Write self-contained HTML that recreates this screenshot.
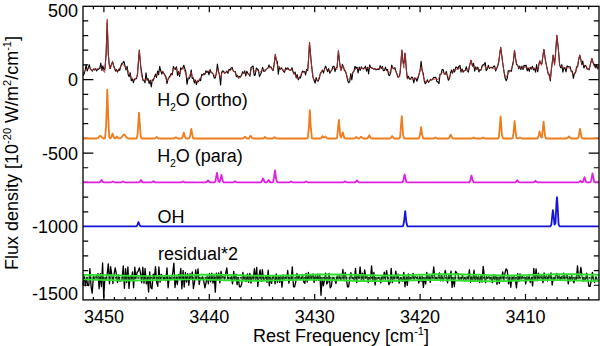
<!DOCTYPE html>
<html><head><meta charset="utf-8"><style>
html,body{margin:0;padding:0;background:#fff;}
svg{display:block;}
text{font-family:"Liberation Sans",sans-serif;fill:#000;}
</style></head><body>
<svg width="600" height="346" viewBox="0 0 600 346">
<rect width="600" height="346" fill="#fff"/>
<path d="M588.74 299.9V297.00M588.74 6.3V9.20M578.20 299.9V297.00M578.20 6.3V9.20M567.66 299.9V297.00M567.66 6.3V9.20M557.12 299.9V297.00M557.12 6.3V9.20M546.58 299.9V297.00M546.58 6.3V9.20M536.04 299.9V297.00M536.04 6.3V9.20M525.50 299.9V294.00M525.50 6.3V12.20M514.96 299.9V297.00M514.96 6.3V9.20M504.42 299.9V297.00M504.42 6.3V9.20M493.88 299.9V297.00M493.88 6.3V9.20M483.34 299.9V297.00M483.34 6.3V9.20M472.80 299.9V297.00M472.80 6.3V9.20M462.26 299.9V297.00M462.26 6.3V9.20M451.72 299.9V297.00M451.72 6.3V9.20M441.18 299.9V297.00M441.18 6.3V9.20M430.64 299.9V297.00M430.64 6.3V9.20M420.10 299.9V294.00M420.10 6.3V12.20M409.56 299.9V297.00M409.56 6.3V9.20M399.02 299.9V297.00M399.02 6.3V9.20M388.48 299.9V297.00M388.48 6.3V9.20M377.94 299.9V297.00M377.94 6.3V9.20M367.40 299.9V297.00M367.40 6.3V9.20M356.86 299.9V297.00M356.86 6.3V9.20M346.32 299.9V297.00M346.32 6.3V9.20M335.78 299.9V297.00M335.78 6.3V9.20M325.24 299.9V297.00M325.24 6.3V9.20M314.70 299.9V294.00M314.70 6.3V12.20M304.16 299.9V297.00M304.16 6.3V9.20M293.62 299.9V297.00M293.62 6.3V9.20M283.08 299.9V297.00M283.08 6.3V9.20M272.54 299.9V297.00M272.54 6.3V9.20M262.00 299.9V297.00M262.00 6.3V9.20M251.46 299.9V297.00M251.46 6.3V9.20M240.92 299.9V297.00M240.92 6.3V9.20M230.38 299.9V297.00M230.38 6.3V9.20M219.84 299.9V297.00M219.84 6.3V9.20M209.30 299.9V294.00M209.30 6.3V12.20M198.76 299.9V297.00M198.76 6.3V9.20M188.22 299.9V297.00M188.22 6.3V9.20M177.68 299.9V297.00M177.68 6.3V9.20M167.14 299.9V297.00M167.14 6.3V9.20M156.60 299.9V297.00M156.60 6.3V9.20M146.06 299.9V297.00M146.06 6.3V9.20M135.52 299.9V297.00M135.52 6.3V9.20M124.98 299.9V297.00M124.98 6.3V9.20M114.44 299.9V297.00M114.44 6.3V9.20M103.90 299.9V294.00M103.90 6.3V12.20M93.36 299.9V297.00M93.36 6.3V9.20M83.0 285.26H88.20M599.0 285.26H593.80M83.0 270.57H88.20M599.0 270.57H593.80M83.0 255.88H88.20M599.0 255.88H593.80M83.0 241.19H88.20M599.0 241.19H593.80M83.0 226.50H93.30M599.0 226.50H588.70M83.0 211.81H88.20M599.0 211.81H593.80M83.0 197.12H88.20M599.0 197.12H593.80M83.0 182.43H88.20M599.0 182.43H593.80M83.0 167.74H88.20M599.0 167.74H593.80M83.0 153.05H93.30M599.0 153.05H588.70M83.0 138.36H88.20M599.0 138.36H593.80M83.0 123.67H88.20M599.0 123.67H593.80M83.0 108.98H88.20M599.0 108.98H593.80M83.0 94.29H88.20M599.0 94.29H593.80M83.0 79.60H93.30M599.0 79.60H588.70M83.0 64.91H88.20M599.0 64.91H593.80M83.0 50.22H88.20M599.0 50.22H593.80M83.0 35.53H88.20M599.0 35.53H593.80M83.0 20.84H88.20M599.0 20.84H593.80" stroke="#000" stroke-width="1.2" fill="none"/>
<g fill="none" stroke-linejoin="round">
<polyline points="83.0,75.6 84.0,74.1 85.1,70.7 86.1,64.8 87.2,71.0 88.2,68.3 89.3,64.7 90.3,68.8 91.4,70.2 92.4,71.1 93.5,68.9 94.5,69.9 95.6,68.7 96.6,71.0 97.7,69.4 98.7,69.1 99.8,68.1 100.8,63.0 101.9,70.4 102.9,65.8 104.0,70.3 105.0,68.0 106.1,54.4 106.1,54.4 107.1,23.5 107.2,22.0 108.2,51.5 108.3,54.4 109.2,64.2 110.3,68.5 111.3,64.8 112.4,62.2 112.6,61.7 113.4,65.2 114.5,68.0 115.5,71.1 116.6,69.6 117.6,72.0 118.7,69.1 119.7,70.4 120.8,66.0 121.8,63.4 122.9,62.9 123.9,61.4 125.0,65.7 126.0,70.0 127.1,66.4 128.1,74.3 129.2,76.7 130.2,72.9 131.3,80.7 132.3,78.9 133.4,82.7 134.4,79.1 135.5,78.8 136.5,78.7 137.6,73.6 138.7,58.1 139.3,50.1 139.7,54.8 140.8,67.2 141.8,73.1 142.9,80.3 143.9,80.4 145.0,82.8 146.0,72.8 147.1,80.3 148.1,78.6 149.2,83.6 150.2,80.1 151.3,87.0 152.3,79.7 153.4,80.2 154.4,77.2 155.5,74.1 156.5,77.5 157.6,71.0 158.6,74.8 159.7,66.4 160.7,70.6 161.8,74.1 162.8,71.4 163.9,73.7 164.9,74.9 166.0,76.9 167.0,83.7 168.1,78.8 169.1,77.3 170.2,75.5 171.2,73.5 172.3,74.6 173.3,66.6 174.4,68.2 175.4,69.3 176.5,66.8 177.5,75.5 178.6,71.5 179.6,76.5 180.7,67.9 181.7,69.3 182.8,67.8 183.8,65.2 184.9,68.8 185.9,71.9 187.0,84.3 188.0,78.9 189.1,78.8 190.1,76.9 191.2,69.8 192.2,78.5 193.3,77.8 194.3,83.0 195.4,80.0 196.4,84.8 197.5,80.9 198.5,81.7 199.6,79.1 200.6,80.7 201.7,74.4 202.7,75.1 203.8,73.6 204.8,74.6 205.9,70.8 206.9,72.5 208.0,71.0 209.0,74.9 210.1,69.5 211.1,72.7 212.2,72.9 213.2,74.0 214.3,78.1 215.3,77.9 216.4,72.7 217.4,64.1 218.5,71.3 219.5,75.1 220.6,85.3 221.6,72.3 222.7,70.8 223.7,71.5 224.8,73.3 225.8,72.4 226.9,71.0 227.9,73.4 229.0,69.3 230.0,70.0 231.1,68.0 232.1,67.4 233.2,70.9 234.2,71.6 235.3,71.6 236.3,76.7 237.4,75.3 238.4,77.9 239.5,76.4 240.5,77.1 241.6,75.1 242.6,71.7 243.7,73.3 244.7,70.8 245.8,75.9 246.8,71.2 247.9,73.6 248.9,74.2 250.0,76.3 251.0,67.5 252.1,66.8 253.1,66.0 254.2,75.4 255.2,74.9 256.3,68.0 257.3,69.0 258.4,70.0 259.4,76.5 260.5,74.5 261.5,72.0 262.6,67.3 263.6,71.1 264.7,71.2 265.7,69.9 266.8,68.9 267.8,68.3 268.9,65.0 269.9,67.1 271.0,67.1 272.0,69.2 273.1,70.6 274.1,64.4 275.2,55.7 275.3,54.4 276.2,60.0 277.3,61.6 278.3,74.2 279.4,66.9 280.4,69.2 281.5,67.8 282.5,69.5 283.6,71.6 284.6,72.3 285.7,67.7 286.7,69.5 287.8,67.8 288.8,69.8 289.9,69.9 290.9,70.2 292.0,67.7 293.0,71.9 294.1,73.9 295.1,72.0 296.2,78.0 297.2,74.6 298.3,79.9 299.3,77.5 300.4,78.0 301.4,74.2 302.5,71.0 303.5,72.0 304.6,71.5 305.6,75.0 306.7,69.4 307.7,70.6 308.8,55.7 309.5,42.5 309.8,46.0 310.9,58.2 310.9,58.8 311.9,68.4 313.0,77.4 314.0,80.0 315.1,83.1 316.1,77.5 317.2,80.8 318.2,81.1 319.3,78.3 320.3,73.6 321.4,71.9 322.4,70.1 323.5,73.1 324.5,68.9 325.6,66.2 326.6,69.0 327.7,71.7 328.7,68.6 329.8,73.3 330.8,71.3 331.9,70.0 332.9,66.3 334.0,66.2 335.0,71.7 336.1,67.9 337.1,67.1 338.2,53.9 338.4,50.8 339.2,58.7 339.5,61.7 340.3,67.1 341.3,69.8 342.4,64.4 343.4,67.0 344.5,70.8 345.5,71.3 346.6,75.1 347.6,80.3 348.7,82.7 349.7,81.8 350.8,73.5 351.8,79.9 352.9,72.1 353.9,71.3 355.0,66.2 356.0,68.4 357.1,67.1 358.1,73.0 359.2,67.0 360.2,70.4 361.3,66.8 362.3,68.8 363.4,68.5 364.4,68.0 365.5,66.2 366.5,71.1 367.6,67.3 368.6,73.9 369.7,64.9 370.7,67.2 371.8,68.0 372.8,68.1 373.9,69.3 374.9,68.7 376.0,69.9 377.0,69.2 378.1,69.5 379.1,69.4 380.2,65.6 381.2,68.5 382.3,66.4 383.3,70.7 384.4,70.4 385.4,67.1 386.5,70.4 387.5,69.4 388.6,75.0 389.6,75.5 390.7,72.6 391.7,65.1 392.8,68.1 393.8,68.7 394.9,67.7 395.9,71.1 397.0,74.2 398.0,77.4 399.1,76.3 400.1,72.9 401.2,59.4 401.2,58.8 401.9,50.1 402.2,53.3 403.0,61.7 403.3,63.7 404.3,61.9 405.0,53.0 405.4,56.8 405.8,61.7 406.4,70.0 407.5,78.7 408.5,76.3 409.6,79.1 410.6,79.1 411.7,77.0 412.7,77.8 413.8,82.8 414.8,77.9 415.9,78.5 416.9,81.2 418.0,78.0 419.0,74.5 420.1,70.1 421.1,61.4 422.2,70.6 423.2,73.1 424.3,81.2 425.3,83.7 426.4,82.4 427.4,79.8 428.5,82.4 429.5,81.0 430.6,79.3 431.6,80.1 432.7,79.0 433.7,77.3 434.8,77.6 435.8,77.2 436.9,81.6 437.9,81.9 439.0,83.6 440.0,74.2 441.1,74.1 442.1,69.6 443.2,69.5 444.2,74.0 445.3,74.3 446.3,71.3 447.4,76.5 448.4,80.3 449.5,78.4 450.5,73.0 451.6,69.9 452.6,73.2 453.7,69.3 454.7,72.0 455.8,67.0 456.8,67.3 457.9,69.2 458.9,66.3 460.0,65.3 461.0,72.2 462.1,68.9 463.1,72.2 464.2,70.8 465.2,70.3 466.3,66.7 467.3,70.5 468.4,72.1 469.4,66.4 470.5,62.3 471.0,60.2 471.5,62.1 472.6,66.1 473.6,63.4 474.7,71.1 475.7,66.8 476.8,69.4 477.8,67.1 478.9,72.0 479.9,69.6 481.0,70.2 482.0,66.1 483.1,64.7 484.1,64.4 485.2,62.5 486.2,70.7 487.3,69.0 488.3,65.3 489.4,68.4 490.4,67.6 491.5,67.3 492.5,68.2 493.6,66.3 494.6,65.9 495.7,70.9 496.7,68.6 497.8,65.9 498.8,62.0 499.9,53.0 500.7,47.3 500.9,48.9 502.0,57.0 502.4,60.5 503.0,65.0 504.1,72.2 505.1,78.0 506.2,80.7 507.2,78.6 508.3,70.7 509.3,70.9 510.4,70.8 511.4,71.3 512.5,64.9 513.5,60.5 514.5,50.4 514.6,50.8 515.6,58.7 516.7,64.8 517.7,65.1 518.8,68.9 519.8,66.1 520.9,69.6 521.9,66.1 523.0,69.5 524.0,65.3 525.1,66.0 526.1,65.2 527.2,70.9 528.2,68.3 529.3,71.4 530.3,67.4 531.4,69.0 532.4,66.3 533.5,69.9 534.5,68.3 535.6,72.2 536.6,64.6 537.7,71.8 538.7,65.4 539.7,60.8 539.8,60.9 540.8,63.6 541.9,63.8 542.9,56.0 543.9,49.3 544.0,49.7 545.0,57.2 545.5,60.8 546.1,63.6 547.1,68.4 548.2,74.2 549.2,74.3 550.3,80.9 551.3,69.6 552.4,61.5 553.1,55.0 553.4,57.0 554.5,63.8 555.5,54.0 556.6,39.0 556.8,35.4 557.6,42.0 558.2,47.0 558.7,52.9 559.7,65.4 560.8,67.9 561.8,64.6 562.9,72.1 563.9,67.8 565.0,68.1 566.0,71.9 567.1,65.8 568.1,66.8 569.2,66.8 570.2,66.8 571.3,71.6 572.3,71.3 573.4,78.3 574.4,73.0 575.5,73.0 576.5,66.9 577.6,66.8 578.6,60.1 579.7,55.2 579.7,55.0 580.7,59.0 581.8,64.6 582.8,61.0 583.9,68.0 584.9,65.2 586.0,65.9 587.0,69.0 588.1,68.7 589.1,69.9 590.2,65.1 591.2,61.2 591.9,58.5 592.3,59.7 593.3,63.4 594.4,64.5 595.4,67.9 596.5,64.6 597.5,68.9 598.6,65.9" stroke="#000" stroke-width="1.1"/>
<polyline points="83.0,73.2 85.2,70.1 89.5,67.6 91.7,70.9 93.8,69.2 96.7,69.4 99.6,67.6 101.8,69.1 104.7,72.5 106.1,54.4 107.2,19.0 108.3,54.4 109.7,68.9 112.6,61.7 114.0,67.4 116.9,71.6 119.8,68.1 122.7,64.0 124.9,66.9 127.8,69.8 130.7,76.1 134.3,81.1 137.2,76.1 139.3,50.1 141.5,76.1 143.6,80.4 147.3,79.0 150.9,81.8 153.8,78.3 159.5,71.7 162.2,71.2 164.3,74.4 166.9,81.0 168.7,78.9 170.8,76.2 173.7,69.4 175.9,67.5 177.3,70.7 179.5,74.8 180.9,70.5 183.1,67.1 185.3,72.7 187.4,79.0 189.6,75.5 191.0,72.0 192.5,76.7 195.4,81.6 198.3,81.0 201.9,75.9 206.2,72.5 210.5,70.8 213.4,74.6 215.6,76.3 217.5,68.8 219.2,74.1 220.6,78.0 222.1,72.2 225.7,72.4 229.3,70.9 232.2,69.2 235.1,72.2 238.0,77.4 239.4,78.2 241.6,74.7 244.5,71.6 245.9,73.7 247.4,73.6 249.6,75.0 251.7,68.2 253.2,69.2 255.3,72.3 257.5,70.0 259.7,72.5 263.3,68.8 265.4,70.8 268.3,67.7 271.2,67.7 273.4,70.3 275.3,54.4 276.7,63.1 278.4,67.0 281.3,69.0 284.2,70.3 287.8,68.9 290.0,69.7 292.2,69.5 295.0,74.6 297.9,78.9 300.1,76.0 302.3,72.1 305.1,72.2 308.0,68.9 309.5,42.5 310.9,58.8 312.4,73.2 313.8,80.1 316.0,79.5 317.7,81.0 319.6,76.1 321.8,70.9 323.9,70.7 325.4,67.9 327.6,69.6 330.4,71.4 332.6,68.7 334.8,67.8 336.9,69.6 338.4,50.8 339.5,61.7 340.8,71.0 342.7,65.5 344.9,69.9 346.3,73.2 347.8,79.8 349.9,78.3 352.1,74.5 354.3,70.0 357.2,68.2 359.3,69.3 361.5,67.8 363.7,69.3 365.8,68.1 368.0,68.2 370.2,66.9 373.0,68.6 376.6,69.3 379.5,68.2 381.7,67.3 383.9,68.8 386.8,70.8 389.6,72.7 391.8,67.6 394.0,68.2 395.7,71.1 397.6,76.3 399.8,76.8 401.2,58.8 401.9,50.1 403.0,61.7 403.8,68.2 405.0,53.0 405.8,61.7 407.0,78.3 409.9,78.0 412.0,79.3 415.7,78.9 417.8,77.3 419.3,73.5 421.0,66.6 422.4,71.5 423.6,77.4 425.0,81.5 427.2,81.1 428.7,81.7 430.8,79.6 433.0,79.4 435.9,78.9 438.0,79.8 440.2,75.1 442.4,72.0 444.5,73.2 446.7,73.6 448.9,78.9 451.0,73.1 453.9,70.3 457.5,68.9 459.7,68.4 462.6,71.3 465.5,70.1 468.4,70.3 471.0,60.2 472.7,66.7 473.6,67.5 476.0,68.0 479.1,70.1 481.1,69.4 483.7,64.8 486.2,68.1 490.2,67.3 493.3,68.6 496.3,69.2 498.3,63.5 500.7,47.3 502.4,60.5 504.0,72.6 506.0,77.6 508.4,73.4 510.9,70.0 513.1,64.5 514.5,50.4 516.1,62.5 518.6,67.7 521.6,68.3 525.6,67.2 529.7,68.1 533.7,68.0 537.8,69.6 539.7,60.8 541.5,65.4 543.9,49.3 545.5,60.8 547.3,70.0 550.3,79.3 553.1,55.0 554.7,65.4 556.8,35.4 558.2,47.0 559.6,65.4 562.3,66.8 565.8,68.0 569.3,67.7 573.4,74.4 576.2,71.2 579.7,55.0 582.0,64.3 585.4,65.9 588.9,70.0 591.9,58.5 594.2,66.6 597.0,67.7 599.0,68.9" stroke="#b83030" stroke-width="1.0" stroke-opacity="0.85"/>
<polyline points="83.0,138.5 84.0,138.5 85.1,138.5 86.2,138.5 87.2,138.5 88.2,138.5 89.3,138.5 90.3,138.5 91.4,138.5 92.5,138.5 93.5,138.5 94.5,138.5 95.6,138.5 96.7,138.5 97.7,138.2 98.8,137.3 99.8,136.0 100.3,135.8 100.8,136.1 101.9,137.4 103.0,138.3 104.0,138.5 105.0,138.1 106.1,126.3 107.3,89.6 108.2,116.1 109.2,137.3 110.3,138.4 111.3,137.1 112.5,133.5 113.5,136.4 114.5,138.4 115.5,138.1 116.8,136.5 117.7,137.5 118.7,138.4 119.8,138.4 120.8,138.1 121.8,137.2 122.9,135.5 124.1,134.4 125.0,135.1 126.0,136.7 127.1,137.9 128.2,138.4 129.2,138.5 130.2,138.5 131.3,138.5 132.3,138.5 133.4,138.5 134.4,138.5 135.5,138.5 136.6,138.4 137.6,134.6 139.0,112.7 139.7,122.4 140.8,137.2 141.8,138.5 142.8,138.5 143.9,138.5 144.9,138.5 146.0,138.5 147.1,138.5 148.1,138.5 149.2,138.5 150.2,138.5 151.2,138.5 152.3,138.5 153.3,138.5 154.4,138.5 155.4,138.2 156.7,137.0 157.6,137.8 158.6,138.5 159.7,138.5 160.7,138.5 161.8,138.5 162.8,138.5 163.8,138.5 164.9,138.5 165.9,138.5 167.0,138.5 168.1,138.5 169.1,138.5 170.2,138.5 171.2,138.5 172.2,138.5 173.3,138.5 174.3,138.3 175.7,137.3 176.4,137.8 177.5,138.4 178.6,138.5 179.6,138.5 180.7,138.5 181.7,138.4 182.8,136.5 183.8,132.7 184.8,136.5 185.9,138.4 186.9,138.5 188.0,138.5 189.1,138.4 190.1,136.1 191.3,128.8 192.2,134.1 193.2,138.3 194.3,138.5 195.3,138.5 196.4,138.5 197.4,138.5 198.5,138.5 199.6,138.5 200.6,138.5 201.7,138.5 202.7,138.5 203.8,138.5 204.8,138.5 205.8,138.5 206.9,138.5 207.9,138.5 209.0,138.5 210.1,138.5 211.1,138.5 212.2,138.5 213.2,138.5 214.2,138.5 215.3,138.5 216.3,138.5 217.4,138.5 218.4,138.5 219.5,138.5 220.6,138.5 221.6,138.5 222.7,138.5 223.7,138.5 224.8,138.5 225.8,138.5 226.8,138.5 227.9,138.5 228.9,138.5 230.0,138.5 231.1,138.5 232.1,138.5 233.2,138.5 234.2,138.5 235.2,138.5 236.3,138.5 237.3,138.5 238.4,138.5 239.4,138.5 240.5,138.5 241.6,138.5 242.6,138.5 243.7,138.2 245.0,136.6 245.8,137.4 246.8,138.4 247.8,138.5 248.9,138.4 249.9,136.9 250.7,135.8 252.1,138.0 253.1,138.5 254.2,138.5 255.2,138.5 256.2,138.5 257.3,138.5 258.4,138.5 259.4,138.5 260.4,138.5 261.5,138.5 262.6,138.5 263.6,138.3 265.0,137.0 265.7,137.6 266.8,138.4 267.8,138.5 268.9,138.5 269.9,138.5 270.9,138.5 272.0,138.5 273.1,138.3 274.5,137.2 275.1,137.6 276.2,138.4 277.2,138.5 278.3,138.5 279.4,138.5 280.4,138.5 281.4,138.5 282.5,138.5 283.6,138.5 284.6,138.5 285.6,138.5 286.7,138.5 287.8,138.5 288.8,138.5 289.9,138.5 290.9,138.5 291.9,138.5 293.0,138.5 294.1,138.5 295.1,138.5 296.1,138.5 297.2,138.5 298.2,138.5 299.3,138.5 300.4,138.5 301.4,138.5 302.4,138.5 303.5,138.5 304.6,138.5 305.6,138.5 306.6,138.5 307.7,138.1 308.8,128.7 309.8,110.1 310.9,128.7 311.9,138.1 312.9,138.5 314.0,138.5 315.1,138.5 316.1,138.5 317.1,138.5 318.2,138.5 319.2,138.5 320.3,138.5 321.4,137.8 322.5,136.1 323.4,137.4 324.5,137.5 325.4,136.5 326.6,138.0 327.6,138.5 328.7,138.5 329.8,138.5 330.8,138.5 331.9,138.5 332.9,138.5 333.9,138.5 335.0,138.5 336.1,138.5 337.1,137.7 338.1,127.7 338.9,120.0 340.2,135.3 341.3,137.5 342.7,132.3 343.4,134.6 344.4,138.2 345.5,138.5 346.6,138.5 347.6,138.5 348.6,138.5 349.7,138.5 350.8,138.5 351.8,138.5 352.9,138.5 353.9,138.5 354.9,138.2 356.3,137.0 357.1,137.6 358.1,138.4 359.1,138.5 360.2,137.6 361.1,136.6 362.3,138.0 363.4,138.5 364.4,138.5 365.4,138.5 366.5,138.5 367.6,138.3 368.6,136.5 369.3,135.3 370.7,138.0 371.8,138.5 372.8,138.5 373.9,138.5 374.9,138.5 375.9,138.5 377.0,138.5 378.1,138.5 379.1,138.5 380.1,138.5 381.2,138.5 382.2,138.5 383.3,138.5 384.4,138.5 385.4,138.5 386.4,138.5 387.5,138.5 388.6,138.5 389.6,138.5 390.6,138.2 392.1,136.1 392.8,136.9 393.8,138.4 394.9,138.5 395.9,138.5 396.9,138.5 398.0,138.5 399.1,138.5 400.1,137.1 401.1,123.7 401.8,116.2 403.2,135.6 404.3,138.4 405.4,138.5 406.4,138.5 407.4,138.5 408.5,138.5 409.6,138.5 410.6,138.5 411.6,138.5 412.7,138.5 413.8,138.5 414.8,138.5 415.9,138.5 416.9,138.5 417.9,138.5 419.0,138.3 420.1,134.6 421.1,127.1 422.1,134.6 423.2,138.3 424.2,138.5 425.3,138.5 426.4,138.5 427.4,138.5 428.4,138.5 429.5,138.5 430.6,138.5 431.6,138.5 432.6,138.5 433.7,138.5 434.8,137.9 435.5,137.5 436.9,138.3 437.9,138.5 438.9,138.5 440.0,138.5 441.1,138.5 442.1,138.5 443.1,138.5 444.2,138.5 445.2,138.5 446.3,138.5 447.4,138.5 448.4,138.5 449.4,137.7 450.7,134.7 451.6,136.6 452.6,138.4 453.6,138.5 454.7,138.5 455.8,138.5 456.8,138.5 457.9,138.5 458.9,138.5 459.9,138.5 461.0,138.5 462.1,138.5 463.1,138.5 464.1,138.5 465.2,138.5 466.2,138.5 467.3,138.5 468.4,138.5 469.4,138.5 470.4,138.5 471.5,138.5 472.6,138.2 473.6,137.5 474.6,138.2 475.7,138.5 476.8,138.5 477.8,138.5 478.9,138.5 479.9,138.5 480.9,138.5 482.0,138.1 483.0,137.5 484.1,138.2 485.1,138.5 486.2,138.5 487.2,138.5 488.3,138.5 489.4,138.5 490.4,138.5 491.4,138.5 492.5,138.5 493.6,138.5 494.6,138.5 495.6,138.5 496.7,138.5 497.8,138.5 498.8,137.5 499.9,125.7 500.6,116.4 501.9,134.7 503.0,138.4 504.1,138.5 505.1,138.5 506.1,138.5 507.2,138.5 508.2,138.5 509.3,138.5 510.4,138.5 511.4,138.5 512.5,138.3 513.5,133.1 514.6,121.0 515.6,131.8 516.6,138.2 517.7,138.5 518.8,138.3 520.0,137.4 520.9,138.0 521.9,138.5 523.0,138.5 524.0,138.5 525.0,138.5 526.1,138.5 527.1,138.5 528.2,138.5 529.2,138.5 530.3,138.5 531.4,138.5 532.4,138.5 533.5,138.5 534.5,138.5 535.5,138.5 536.6,138.5 537.6,138.3 538.7,135.2 539.6,131.4 540.8,136.7 541.9,137.6 542.9,128.0 543.6,121.6 545.0,135.9 546.0,138.4 547.1,138.5 548.1,138.5 549.2,138.5 550.2,138.5 551.3,138.5 552.4,138.5 553.4,138.5 554.5,138.5 555.5,138.5 556.5,138.5 557.6,138.5 558.6,138.5 559.7,138.5 560.8,138.5 561.8,138.5 562.9,138.5 563.9,138.5 565.0,138.5 566.0,138.5 567.0,138.4 568.1,137.5 569.0,136.4 570.2,138.0 571.2,138.5 572.3,138.5 573.4,138.5 574.4,138.5 575.5,138.5 576.5,138.5 577.5,138.5 578.6,137.1 580.0,129.0 580.7,132.6 581.8,138.0 582.8,138.5 583.9,138.5 584.9,138.5 586.0,138.5 587.0,138.5 588.0,138.5 589.1,138.5 590.1,138.5 591.2,138.5 592.2,138.5 593.3,138.5 594.4,138.5 595.4,138.5 596.5,138.5 597.5,138.5 598.5,138.5" stroke="#ee7c1c" stroke-width="1.8"/>
<polyline points="83.0,182.4 84.0,182.4 85.1,182.4 86.2,182.4 87.2,182.4 88.2,182.4 89.3,182.4 90.3,182.4 91.4,182.4 92.5,182.4 93.5,182.4 94.5,182.4 95.6,182.4 96.7,182.4 97.7,182.4 98.8,182.4 99.8,182.3 100.8,181.0 101.6,180.0 103.0,182.0 104.0,182.4 105.0,182.4 106.1,182.4 107.2,182.4 108.2,182.4 109.2,182.4 110.3,182.4 111.3,182.3 112.4,181.8 113.0,181.5 113.5,181.7 114.5,182.3 115.5,182.4 116.6,182.4 117.7,182.4 118.7,182.4 119.8,182.4 120.8,182.4 121.8,182.1 123.0,181.5 124.0,182.0 125.0,182.4 126.0,182.4 127.1,182.4 128.2,182.4 129.2,182.4 130.2,182.4 131.3,182.4 132.3,182.4 133.4,182.4 134.4,182.4 135.5,182.4 136.6,182.4 137.6,182.4 138.7,182.4 139.7,181.9 141.0,180.0 141.8,181.1 142.8,182.3 143.9,182.4 144.9,182.4 146.0,182.4 147.1,182.4 148.1,182.4 149.2,182.4 150.2,182.4 151.2,182.4 152.3,182.0 153.4,181.2 154.4,181.9 155.4,182.4 156.5,182.4 157.6,182.4 158.6,182.4 159.7,182.4 160.7,182.4 161.8,182.4 162.8,182.4 163.8,182.4 164.9,182.4 165.9,182.4 167.0,182.4 168.1,182.4 169.1,182.4 170.2,182.4 171.2,182.4 172.2,182.4 173.3,182.4 174.3,182.4 175.4,182.4 176.4,182.4 177.5,182.4 178.6,182.4 179.6,182.4 180.7,182.4 181.7,182.2 183.0,181.5 183.8,181.9 184.8,182.4 185.9,182.4 186.9,182.4 188.0,182.4 189.1,182.4 190.1,182.4 191.2,182.4 192.2,182.4 193.2,182.4 194.3,182.4 195.3,182.4 196.4,182.4 197.4,182.4 198.5,182.4 199.6,182.4 200.6,182.4 201.7,182.4 202.7,182.4 203.8,182.4 204.8,182.4 205.8,182.4 206.9,181.8 208.0,180.4 209.0,181.6 210.1,182.4 211.1,182.4 212.2,182.4 213.2,182.4 214.2,182.4 215.3,181.8 216.3,176.1 217.0,173.0 218.4,181.2 219.5,182.1 220.6,178.7 221.4,175.0 222.7,180.8 223.7,182.4 224.8,182.4 225.8,182.4 226.8,182.4 227.9,182.4 228.9,182.4 230.0,182.4 231.1,182.4 232.1,182.4 233.2,182.4 234.2,181.8 235.0,181.2 236.3,182.2 237.3,182.4 238.4,182.4 239.4,182.4 240.5,182.4 241.6,182.4 242.6,182.4 243.7,182.4 244.7,182.4 245.8,182.4 246.8,182.4 247.8,182.4 248.9,182.4 249.9,182.4 251.0,182.4 252.1,182.4 253.1,182.4 254.2,182.4 255.2,182.4 256.2,182.4 257.3,182.4 258.4,182.4 259.4,182.4 260.4,182.4 261.5,181.9 263.0,178.4 263.6,179.6 264.6,182.1 265.7,182.4 266.8,182.3 267.8,181.1 268.6,180.0 269.9,181.9 270.9,182.4 272.0,182.4 273.1,182.1 274.1,176.9 275.0,170.4 276.2,179.4 277.2,182.3 278.3,182.4 279.4,182.4 280.4,182.4 281.4,182.4 282.5,182.4 283.6,182.4 284.6,182.4 285.6,182.4 286.7,182.4 287.8,182.4 288.8,182.4 289.9,182.1 291.0,181.5 291.9,182.0 293.0,182.4 294.1,182.4 295.1,182.4 296.1,182.4 297.2,182.4 298.2,182.4 299.3,182.4 300.4,182.4 301.4,182.4 302.4,182.4 303.5,182.4 304.6,182.3 306.0,181.5 306.6,181.8 307.7,182.3 308.8,182.4 309.8,182.4 310.9,182.4 311.9,182.4 312.9,182.4 314.0,182.4 315.1,182.4 316.1,182.4 317.1,182.4 318.2,182.4 319.2,182.4 320.3,182.4 321.4,182.4 322.4,182.4 323.4,182.4 324.5,182.4 325.6,182.4 326.6,182.4 327.6,182.4 328.7,182.4 329.8,182.4 330.8,182.4 331.9,182.4 332.9,182.4 333.9,182.4 335.0,182.4 336.1,182.4 337.1,182.4 338.1,182.4 339.2,182.4 340.2,182.4 341.3,182.4 342.4,182.4 343.4,182.3 344.4,181.7 345.0,181.4 345.5,181.6 346.6,182.3 347.6,182.4 348.6,182.4 349.7,182.4 350.8,182.4 351.8,182.4 352.9,182.4 353.9,182.4 354.9,182.4 356.0,181.6 357.0,180.4 358.1,181.8 359.1,182.4 360.2,182.4 361.2,182.4 362.3,182.4 363.4,182.4 364.4,182.4 365.4,182.4 366.5,182.4 367.6,182.4 368.6,182.4 369.6,182.4 370.7,182.4 371.8,182.4 372.8,182.4 373.9,182.4 374.9,182.4 375.9,182.4 377.0,182.4 378.1,182.4 379.1,182.4 380.1,182.4 381.2,182.4 382.2,182.4 383.3,182.4 384.4,182.4 385.4,182.4 386.4,182.4 387.5,182.4 388.6,182.4 389.6,182.4 390.6,182.4 391.7,182.4 392.8,182.4 393.8,182.4 394.9,182.4 395.9,182.4 396.9,182.4 398.0,182.4 399.1,182.4 400.1,182.4 401.1,182.4 402.2,182.4 403.2,181.0 404.6,174.4 405.4,177.7 406.4,182.0 407.4,182.4 408.5,182.4 409.6,182.4 410.6,182.4 411.6,182.4 412.7,182.4 413.8,182.4 414.8,182.4 415.9,182.4 416.9,182.4 417.9,182.4 419.0,182.4 420.1,182.4 421.1,182.4 422.1,182.4 423.2,182.4 424.2,182.4 425.3,182.4 426.4,182.4 427.4,182.4 428.4,182.4 429.5,182.4 430.6,182.4 431.6,182.4 432.6,182.4 433.7,182.4 434.8,182.4 435.8,182.4 436.9,182.4 437.9,182.4 438.9,182.4 440.0,182.4 441.1,182.4 442.1,182.4 443.1,182.4 444.2,182.4 445.2,182.4 446.3,182.4 447.4,182.4 448.4,182.4 449.4,182.4 450.5,182.4 451.6,182.4 452.6,182.4 453.6,182.4 454.7,182.4 455.8,182.4 456.8,182.4 457.9,182.4 458.9,182.4 459.9,182.4 461.0,182.4 462.1,182.4 463.1,182.4 464.1,182.4 465.2,182.4 466.2,182.4 467.3,182.4 468.4,182.4 469.4,182.3 470.4,180.0 471.5,175.5 472.6,180.0 473.6,182.3 474.6,182.4 475.7,182.4 476.8,182.4 477.8,182.4 478.9,182.4 479.9,182.4 480.9,182.4 482.0,182.4 483.1,182.4 484.1,182.4 485.1,182.4 486.2,182.4 487.2,182.4 488.3,182.4 489.4,182.4 490.4,182.4 491.4,182.4 492.5,182.4 493.6,182.4 494.6,182.4 495.6,182.4 496.7,182.4 497.8,182.4 498.8,182.4 499.9,182.4 500.9,182.4 501.9,182.4 503.0,182.4 504.1,182.4 505.1,182.4 506.1,182.4 507.2,182.4 508.2,182.4 509.3,182.4 510.4,182.4 511.4,182.4 512.5,182.4 513.5,182.4 514.5,182.4 515.6,182.3 516.6,181.0 517.3,180.3 518.8,182.1 519.8,182.4 520.9,182.4 521.9,182.4 523.0,182.4 524.0,182.4 525.0,182.4 526.1,182.4 527.1,182.4 528.2,182.4 529.2,182.4 530.3,182.4 531.4,182.4 532.4,182.4 533.5,182.4 534.5,181.8 535.5,180.8 536.6,181.9 537.6,182.4 538.7,182.4 539.8,182.4 540.8,182.4 541.9,182.4 542.9,182.4 544.0,182.4 545.0,182.4 546.0,182.4 547.1,182.4 548.1,182.4 549.2,182.4 550.2,182.4 551.3,182.4 552.4,182.4 553.4,182.4 554.5,182.4 555.5,182.4 556.5,182.4 557.6,182.4 558.6,182.4 559.7,182.4 560.8,182.4 561.8,182.4 562.9,182.4 563.9,182.4 565.0,182.4 566.0,182.4 567.0,182.4 568.1,182.4 569.1,182.4 570.2,182.4 571.2,182.4 572.3,182.4 573.4,182.4 574.4,182.4 575.5,182.4 576.5,182.4 577.5,182.4 578.6,182.4 579.6,181.6 580.5,180.8 581.8,182.0 582.8,182.1 583.9,179.0 584.5,177.3 586.0,181.7 587.0,182.4 588.0,182.4 589.1,182.4 590.1,182.4 591.2,180.6 592.5,173.3 593.3,177.5 594.4,182.1 595.4,182.4 596.5,182.4 597.5,182.4 598.5,182.4" stroke="#e020e0" stroke-width="1.8"/>
<polyline points="83.0,226.4 84.0,226.4 85.1,226.4 86.2,226.4 87.2,226.4 88.2,226.4 89.3,226.4 90.3,226.4 91.4,226.4 92.5,226.4 93.5,226.4 94.5,226.4 95.6,226.4 96.7,226.4 97.7,226.4 98.8,226.4 99.8,226.4 100.8,226.4 101.9,226.4 103.0,226.4 104.0,226.4 105.0,226.4 106.1,226.4 107.2,226.4 108.2,226.4 109.2,226.4 110.3,226.4 111.3,226.4 112.4,226.4 113.5,226.4 114.5,226.4 115.5,226.4 116.6,226.4 117.7,226.4 118.7,226.4 119.8,226.4 120.8,226.4 121.8,226.4 122.9,226.4 124.0,226.4 125.0,226.4 126.0,226.4 127.1,226.4 128.2,226.4 129.2,226.4 130.2,226.4 131.3,226.4 132.3,226.4 133.4,226.4 134.4,226.4 135.5,226.4 136.6,226.3 137.6,224.4 138.5,222.0 139.7,225.3 140.8,226.4 141.8,226.4 142.8,226.4 143.9,226.4 144.9,226.4 146.0,226.4 147.1,226.4 148.1,226.4 149.2,226.4 150.2,226.4 151.2,226.4 152.3,226.4 153.3,226.4 154.4,226.4 155.4,226.4 156.5,226.4 157.6,226.4 158.6,226.4 159.7,226.4 160.7,226.4 161.8,226.4 162.8,226.4 163.8,226.4 164.9,226.4 165.9,226.4 167.0,226.4 168.1,226.4 169.1,226.4 170.2,226.4 171.2,226.4 172.2,226.4 173.3,226.4 174.3,226.4 175.4,226.4 176.4,226.4 177.5,226.4 178.6,226.4 179.6,226.4 180.7,226.4 181.7,226.4 182.8,226.4 183.8,226.4 184.8,226.4 185.9,226.4 186.9,226.4 188.0,226.4 189.1,226.4 190.1,226.4 191.2,226.4 192.2,226.4 193.2,226.4 194.3,226.4 195.3,226.4 196.4,226.4 197.4,226.4 198.5,226.4 199.6,226.4 200.6,226.4 201.7,226.4 202.7,226.4 203.8,226.4 204.8,226.4 205.8,226.4 206.9,226.4 207.9,226.4 209.0,226.4 210.1,226.4 211.1,226.4 212.2,226.4 213.2,226.4 214.2,226.4 215.3,226.4 216.3,226.4 217.4,226.4 218.4,226.4 219.5,226.4 220.6,226.4 221.6,226.4 222.7,226.4 223.7,226.4 224.8,226.4 225.8,226.4 226.8,226.4 227.9,226.4 228.9,226.4 230.0,226.4 231.1,226.4 232.1,226.4 233.2,226.4 234.2,226.4 235.2,226.4 236.3,226.4 237.3,226.4 238.4,226.4 239.4,226.4 240.5,226.4 241.6,226.4 242.6,226.4 243.7,226.4 244.7,226.4 245.8,226.4 246.8,226.4 247.8,226.4 248.9,226.4 249.9,226.4 251.0,226.4 252.1,226.4 253.1,226.4 254.2,226.4 255.2,226.4 256.2,226.4 257.3,226.4 258.4,226.4 259.4,226.4 260.4,226.4 261.5,226.4 262.6,226.4 263.6,226.4 264.6,226.4 265.7,226.4 266.8,226.4 267.8,226.4 268.9,226.4 269.9,226.4 270.9,226.4 272.0,226.4 273.1,226.4 274.1,226.4 275.1,226.4 276.2,226.4 277.2,226.4 278.3,226.4 279.4,226.4 280.4,226.4 281.4,226.4 282.5,226.4 283.6,226.4 284.6,226.4 285.6,226.4 286.7,226.4 287.8,226.4 288.8,226.4 289.9,226.4 290.9,226.4 291.9,226.4 293.0,226.4 294.1,226.4 295.1,226.4 296.1,226.4 297.2,226.4 298.2,226.4 299.3,226.4 300.4,226.4 301.4,226.4 302.4,226.4 303.5,226.4 304.6,226.4 305.6,226.4 306.6,226.4 307.7,226.4 308.8,226.4 309.8,226.4 310.9,226.4 311.9,226.4 312.9,226.4 314.0,226.4 315.1,226.4 316.1,226.4 317.1,226.4 318.2,226.4 319.2,226.4 320.3,226.4 321.4,226.4 322.4,226.4 323.4,226.4 324.5,226.4 325.6,226.4 326.6,226.4 327.6,226.4 328.7,226.4 329.8,226.4 330.8,226.4 331.9,226.4 332.9,226.4 333.9,226.4 335.0,226.4 336.1,226.4 337.1,226.4 338.1,226.4 339.2,226.4 340.2,226.4 341.3,226.4 342.4,226.4 343.4,226.4 344.4,226.4 345.5,226.4 346.6,226.4 347.6,226.4 348.6,226.4 349.7,226.4 350.8,226.4 351.8,226.4 352.9,226.4 353.9,226.4 354.9,226.4 356.0,226.4 357.1,226.4 358.1,226.4 359.1,226.4 360.2,226.4 361.2,226.4 362.3,226.4 363.4,226.4 364.4,226.4 365.4,226.4 366.5,226.4 367.6,226.4 368.6,226.4 369.6,226.4 370.7,226.4 371.8,226.4 372.8,226.4 373.9,226.4 374.9,226.4 375.9,226.4 377.0,226.4 378.1,226.4 379.1,226.4 380.1,226.4 381.2,226.4 382.2,226.4 383.3,226.4 384.4,226.4 385.4,226.4 386.4,226.4 387.5,226.4 388.6,226.4 389.6,226.4 390.6,226.4 391.7,226.4 392.8,226.4 393.8,226.4 394.9,226.4 395.9,226.4 396.9,226.4 398.0,226.4 399.1,226.4 400.1,226.4 401.1,226.4 402.2,226.4 403.2,226.0 404.3,219.4 405.2,211.1 406.4,222.6 407.4,226.3 408.5,226.4 409.6,226.4 410.6,226.4 411.6,226.4 412.7,226.4 413.8,226.4 414.8,226.4 415.9,226.4 416.9,226.4 417.9,226.4 419.0,226.4 420.1,226.4 421.1,226.4 422.1,226.4 423.2,226.4 424.2,226.4 425.3,226.4 426.4,226.4 427.4,226.4 428.4,226.4 429.5,226.4 430.6,226.4 431.6,226.4 432.6,226.4 433.7,226.4 434.8,226.4 435.8,226.4 436.9,226.4 437.9,226.4 438.9,226.4 440.0,226.4 441.1,226.4 442.1,226.4 443.1,226.4 444.2,226.4 445.2,226.4 446.3,226.4 447.4,226.4 448.4,226.4 449.4,226.4 450.5,226.4 451.6,226.4 452.6,226.4 453.6,226.4 454.7,226.4 455.8,226.4 456.8,226.4 457.9,226.4 458.9,226.4 459.9,226.4 461.0,226.4 462.1,226.4 463.1,226.4 464.1,226.4 465.2,226.4 466.2,226.4 467.3,226.4 468.4,226.4 469.4,226.4 470.4,226.4 471.5,226.4 472.6,226.4 473.6,226.4 474.6,226.4 475.7,226.4 476.8,226.4 477.8,226.4 478.9,226.4 479.9,226.4 480.9,226.4 482.0,226.4 483.1,226.4 484.1,226.4 485.1,226.4 486.2,226.4 487.2,226.4 488.3,226.4 489.4,226.4 490.4,226.4 491.4,226.4 492.5,226.4 493.6,226.4 494.6,226.4 495.6,226.4 496.7,226.4 497.8,226.4 498.8,226.4 499.9,226.4 500.9,226.4 501.9,226.4 503.0,226.4 504.1,226.4 505.1,226.4 506.1,226.4 507.2,226.4 508.2,226.4 509.3,226.4 510.4,226.4 511.4,226.4 512.5,226.4 513.5,226.4 514.5,226.4 515.6,226.4 516.6,226.4 517.7,226.4 518.8,226.4 519.8,226.4 520.9,226.4 521.9,226.4 523.0,226.4 524.0,226.4 525.0,226.4 526.1,226.4 527.1,226.4 528.2,226.4 529.2,226.4 530.3,226.4 531.4,226.4 532.4,226.4 533.5,226.4 534.5,226.4 535.5,226.4 536.6,226.4 537.6,226.4 538.7,226.4 539.8,226.4 540.8,226.4 541.9,226.4 542.9,226.4 544.0,226.4 545.0,226.4 546.0,226.4 547.1,226.4 548.1,226.4 549.2,226.4 550.2,226.4 551.3,225.0 552.4,214.3 552.9,210.2 553.4,213.7 554.5,224.7 555.5,223.0 556.5,202.4 557.0,197.2 557.6,205.8 558.6,224.3 559.7,226.4 560.8,226.4 561.8,226.4 562.9,226.4 563.9,226.4 565.0,226.4 566.0,226.4 567.0,226.4 568.1,226.4 569.1,226.4 570.2,226.4 571.2,226.4 572.3,226.4 573.4,226.4 574.4,226.4 575.5,226.4 576.5,226.4 577.5,226.4 578.6,226.4 579.6,226.4 580.7,226.4 581.8,226.4 582.8,226.4 583.9,226.4 584.9,226.4 586.0,226.4 587.0,226.4 588.0,226.4 589.1,226.4 590.1,226.4 591.2,226.4 592.2,226.4 593.3,226.4 594.4,226.4 595.4,226.4 596.5,226.4 597.5,226.4 598.5,226.4" stroke="#1414d8" stroke-width="1.8"/>
<polyline points="83.0,285.1 84.2,275.5 85.3,285.8 86.5,277.4 87.6,285.1 88.8,285.6 89.9,268.6 91.1,286.8 92.2,293.2 93.4,276.1 94.5,278.4 95.7,276.9 96.8,276.2 98.0,273.6 99.1,288.8 100.3,273.6 101.4,286.6 102.6,262.8 103.7,297.6 104.9,277.5 106.0,279.5 107.2,273.8 108.3,263.8 109.5,283.8 110.6,266.6 111.8,274.8 112.9,283.5 114.1,274.2 115.2,267.8 116.4,274.1 117.5,282.4 118.7,275.0 119.8,281.1 121.0,280.8 122.1,278.9 123.3,265.8 124.4,288.3 125.6,268.7 126.7,282.5 127.9,266.8 129.0,288.4 130.2,275.8 131.3,279.3 132.5,272.0 133.6,287.8 134.8,267.1 135.9,278.6 137.1,272.5 138.2,271.1 139.4,267.8 140.5,273.2 141.7,282.6 142.8,267.1 144.0,283.2 145.1,268.5 146.3,283.8 147.4,276.9 148.6,292.0 149.7,271.8 150.9,287.8 152.0,288.8 153.2,274.1 154.3,278.3 155.5,266.6 156.6,282.1 157.8,286.3 158.9,266.9 160.1,282.1 161.2,274.3 162.4,275.8 163.5,279.8 164.7,277.1 165.8,280.7 167.0,267.8 168.1,287.8 169.3,276.7 170.4,278.8 171.6,279.0 172.7,273.1 173.9,263.1 175.0,287.5 176.2,276.7 177.3,284.5 178.5,274.4 179.6,278.6 180.8,268.5 181.9,288.8 183.1,270.5 184.2,287.0 185.4,272.5 186.5,282.0 187.7,273.6 188.8,285.3 190.0,273.7 191.1,278.6 192.3,271.9 193.4,288.5 194.6,282.0 195.7,269.8 196.9,279.3 198.0,268.8 199.2,284.5 200.3,277.8 201.5,278.7 202.6,276.7 203.8,281.3 204.9,287.8 206.1,282.3 207.2,275.8 208.4,283.8 209.5,273.5 210.7,281.8 211.8,273.2 213.0,283.1 214.1,274.3 215.3,292.1 216.4,273.2 217.6,279.3 218.7,272.9 219.9,282.8 221.0,271.3 222.2,277.1 223.3,276.6 224.5,279.1 225.6,273.9 226.8,267.9 227.9,279.1 229.1,277.4 230.2,279.0 231.4,276.4 232.5,283.8 233.7,271.4 234.8,279.4 236.0,274.1 237.1,284.6 238.3,277.3 239.4,286.8 240.6,286.8 241.7,284.1 242.9,272.3 244.0,279.6 245.2,276.6 246.3,281.6 247.5,273.8 248.6,282.4 249.8,273.3 250.9,283.0 252.1,275.9 253.2,279.4 254.4,268.7 255.5,280.3 256.7,267.4 257.8,286.4 259.0,275.8 260.1,269.8 261.3,281.4 262.4,269.7 263.6,280.5 264.7,278.5 265.9,276.1 267.0,282.3 268.2,270.2 269.3,285.8 270.5,277.0 271.6,283.3 272.8,275.9 273.9,276.7 275.1,283.8 276.2,273.9 277.4,282.5 278.5,275.9 279.7,282.3 280.8,275.3 282.0,287.2 283.1,274.8 284.3,279.3 285.4,276.9 286.6,278.5 287.7,270.5 288.9,283.1 290.0,277.1 291.2,279.5 292.3,266.9 293.5,286.8 294.6,286.8 295.8,281.6 296.9,273.5 298.1,278.4 299.2,275.5 300.3,279.0 301.5,279.0 302.6,274.4 303.8,282.1 304.9,283.3 306.1,273.5 307.2,282.0 308.4,272.5 309.5,278.8 310.7,274.9 311.8,278.3 313.0,273.8 314.1,282.5 315.3,275.5 316.4,280.7 317.6,274.2 318.7,280.3 319.9,274.2 321.0,295.3 322.2,277.3 323.3,285.8 324.5,280.4 325.6,273.2 326.8,284.0 327.9,282.2 329.1,273.3 330.2,287.8 331.4,286.2 332.5,277.5 333.7,278.5 334.8,279.6 336.0,283.5 337.1,275.9 338.3,279.2 339.4,274.7 340.6,279.8 341.7,278.8 342.9,269.5 344.0,279.8 345.2,272.5 346.3,278.3 347.5,286.8 348.6,286.8 349.8,278.1 350.9,272.7 352.1,278.7 353.2,277.7 354.4,280.6 355.5,268.3 356.7,282.6 357.8,274.3 359.0,278.4 360.1,266.8 361.3,279.8 362.4,273.1 363.6,280.7 364.7,269.8 365.9,278.1 367.0,275.9 368.2,282.5 369.3,277.5 370.5,279.1 371.6,265.8 372.8,281.3 373.9,272.3 375.1,285.0 376.2,277.8 377.4,278.9 378.5,277.7 379.7,278.0 380.8,282.9 382.0,276.2 383.1,279.4 384.3,272.1 385.4,279.6 386.6,270.7 387.7,278.0 388.9,284.7 390.0,282.7 391.2,268.3 392.3,282.6 393.5,276.5 394.6,278.9 395.8,271.1 396.9,278.9 398.1,274.2 399.2,283.1 400.4,277.6 401.5,278.4 402.7,281.4 403.8,272.4 405.0,286.8 406.1,276.5 407.3,285.4 408.4,274.0 409.6,280.7 410.7,277.3 411.9,278.5 413.0,273.5 414.2,279.3 415.3,276.6 416.5,278.2 417.6,276.6 418.8,283.2 419.9,275.8 421.1,281.3 422.2,275.8 423.4,287.4 424.5,277.7 425.7,284.0 426.8,272.4 428.0,279.8 429.1,275.4 430.3,282.4 431.4,274.8 432.6,277.9 433.7,266.9 434.9,279.1 436.0,277.5 437.2,279.1 438.3,276.5 439.5,272.8 440.6,280.8 441.8,274.7 442.9,281.0 444.1,277.6 445.2,270.4 446.4,275.8 447.5,282.9 448.7,275.1 449.8,279.2 451.0,271.1 452.1,287.4 453.3,277.6 454.4,286.6 455.6,271.3 456.7,273.2 457.9,273.7 459.0,279.6 460.2,277.6 461.3,279.3 462.5,274.9 463.6,279.4 464.8,277.4 465.9,279.9 467.1,276.5 468.2,279.3 469.4,269.7 470.5,282.3 471.7,276.7 472.8,280.9 474.0,270.2 475.1,281.1 476.3,275.3 477.4,280.6 478.6,276.1 479.7,282.5 480.9,275.2 482.0,282.1 483.2,266.3 484.3,275.6 485.5,282.7 486.6,276.4 487.8,278.3 488.9,276.5 490.1,279.2 491.2,277.0 492.4,282.6 493.5,275.0 494.7,279.5 495.8,275.4 497.0,284.4 498.1,276.9 499.3,283.5 500.4,276.6 501.6,278.9 502.7,271.8 503.9,280.5 505.0,272.7 506.2,268.8 507.3,270.7 508.5,283.9 509.6,276.9 510.8,287.3 511.9,276.7 513.1,279.5 514.2,276.1 515.4,280.5 516.5,287.8 517.7,273.6 518.8,281.5 520.0,273.8 521.1,279.4 522.3,276.0 523.4,278.2 524.6,277.2 525.7,284.0 526.9,276.5 528.0,280.7 529.2,275.9 530.3,282.4 531.5,277.3 532.6,285.9 533.8,268.4 534.9,280.7 536.1,268.8 537.2,280.7 538.4,273.2 539.5,278.6 540.7,276.2 541.8,275.4 543.0,282.6 544.1,272.8 545.3,279.1 546.4,275.9 547.6,281.0 548.7,274.4 549.9,278.3 551.0,273.0 552.2,285.0 553.3,277.7 554.5,280.5 555.6,276.3 556.8,273.4 557.9,278.3 559.1,275.7 560.2,280.4 561.4,276.3 562.5,278.7 563.7,273.2 564.8,279.1 566.0,276.5 567.1,274.7 568.3,283.9 569.4,276.5 570.6,280.9 571.7,275.4 572.9,280.5 574.0,282.8 575.2,277.1 576.3,280.6 577.5,265.8 578.6,278.6 579.8,275.4 580.9,267.3 582.1,276.7 583.2,281.2 584.4,277.7 585.5,280.4 586.7,273.1 587.8,279.5 589.0,286.3 590.1,286.3 591.3,280.5 592.4,272.3 593.6,280.5 594.7,282.3 595.9,276.7 597.0,279.5 598.2,281.4" stroke="#000" stroke-width="1.3"/>
<polygon points="83.0,274.8 86.0,274.8 89.0,274.8 92.0,274.8 95.0,274.8 98.0,274.9 101.0,274.9 104.0,275.0 107.0,275.0 110.0,275.1 113.0,275.2 116.0,275.3 119.0,275.4 122.0,275.5 125.0,275.6 128.0,275.7 131.0,275.7 134.0,275.8 137.0,275.9 140.0,275.9 143.0,276.0 146.0,276.0 149.0,276.0 152.0,276.0 155.0,276.0 158.0,275.9 161.0,275.9 164.0,275.8 167.0,275.7 170.0,275.6 173.0,275.5 176.0,275.4 179.0,275.3 182.0,275.2 185.0,275.1 188.0,275.0 191.0,274.9 194.0,274.9 197.0,274.8 200.0,274.7 203.0,274.7 206.0,274.7 209.0,274.6 212.0,274.6 215.0,274.6 218.0,274.7 221.0,274.7 224.0,274.8 227.0,274.8 230.0,274.9 233.0,275.0 236.0,275.1 239.0,275.2 242.0,275.2 245.0,275.3 248.0,275.4 251.0,275.5 254.0,275.5 257.0,275.6 260.0,275.6 263.0,275.7 266.0,275.7 269.0,275.7 272.0,275.6 275.0,275.6 278.0,275.6 281.0,275.5 284.0,275.4 287.0,275.4 290.0,275.3 293.0,275.2 296.0,275.1 299.0,275.0 302.0,274.9 305.0,274.8 308.0,274.7 311.0,274.6 314.0,274.5 317.0,274.4 320.0,274.4 323.0,274.3 326.0,274.3 329.0,274.3 332.0,274.3 335.0,274.3 338.0,274.4 341.0,274.4 344.0,274.5 347.0,274.5 350.0,274.6 353.0,274.7 356.0,274.8 359.0,274.8 362.0,274.9 365.0,275.0 368.0,275.1 371.0,275.2 374.0,275.2 377.0,275.3 380.0,275.3 383.0,275.3 386.0,275.3 389.0,275.3 392.0,275.3 395.0,275.3 398.0,275.2 401.0,275.2 404.0,275.1 407.0,275.0 410.0,274.9 413.0,274.9 416.0,274.8 419.0,274.7 422.0,274.6 425.0,274.5 428.0,274.4 431.0,274.3 434.0,274.2 437.0,274.2 440.0,274.1 443.0,274.1 446.0,274.1 449.0,274.1 452.0,274.1 455.0,274.1 458.0,274.2 461.0,274.2 464.0,274.3 467.0,274.4 470.0,274.5 473.0,274.6 476.0,274.7 479.0,274.7 482.0,274.8 485.0,274.9 488.0,275.0 491.0,275.1 494.0,275.2 497.0,275.2 500.0,275.3 503.0,275.3 506.0,275.3 509.0,275.3 512.0,275.3 515.0,275.3 518.0,275.2 521.0,275.2 524.0,275.1 527.0,275.0 530.0,274.9 533.0,274.8 536.0,274.7 539.0,274.6 542.0,274.6 545.0,274.5 548.0,274.4 551.0,274.3 554.0,274.2 557.0,274.2 560.0,274.1 563.0,274.1 566.0,274.1 569.0,274.1 572.0,274.1 575.0,274.2 578.0,274.2 581.0,274.3 584.0,274.3 587.0,274.4 590.0,274.5 593.0,274.6 596.0,274.7 599.0,274.8 599.0,281.2 596.0,281.2 593.0,281.1 590.0,281.0 587.0,280.9 584.0,280.8 581.0,280.7 578.0,280.6 575.0,280.5 572.0,280.5 569.0,280.4 566.0,280.3 563.0,280.2 560.0,280.2 557.0,280.1 554.0,280.1 551.0,280.1 548.0,280.1 545.0,280.1 542.0,280.2 539.0,280.2 536.0,280.3 533.0,280.3 530.0,280.4 527.0,280.5 524.0,280.6 521.0,280.7 518.0,280.8 515.0,280.9 512.0,280.9 509.0,281.0 506.0,281.1 503.0,281.2 500.0,281.2 497.0,281.3 494.0,281.3 491.0,281.3 488.0,281.3 485.0,281.3 482.0,281.2 479.0,281.2 476.0,281.1 473.0,281.1 470.0,281.0 467.0,280.9 464.0,280.8 461.0,280.7 458.0,280.6 455.0,280.5 452.0,280.4 449.0,280.4 446.0,280.3 443.0,280.2 440.0,280.2 437.0,280.1 434.0,280.1 431.0,280.1 428.0,280.1 425.0,280.1 422.0,280.2 419.0,280.2 416.0,280.3 413.0,280.3 410.0,280.4 407.0,280.5 404.0,280.6 401.0,280.7 398.0,280.8 395.0,280.9 392.0,280.9 389.0,281.0 386.0,281.1 383.0,281.1 380.0,281.2 377.0,281.2 374.0,281.2 371.0,281.2 368.0,281.2 365.0,281.2 362.0,281.1 359.0,281.1 356.0,281.0 353.0,280.9 350.0,280.8 347.0,280.7 344.0,280.6 341.0,280.5 338.0,280.4 335.0,280.3 332.0,280.2 329.0,280.1 326.0,280.1 323.0,280.0 320.0,279.9 317.0,279.9 314.0,279.9 311.0,279.9 308.0,279.9 305.0,279.9 302.0,279.9 299.0,279.9 296.0,280.0 293.0,280.1 290.0,280.1 287.0,280.2 284.0,280.3 281.0,280.4 278.0,280.5 275.0,280.5 272.0,280.6 269.0,280.7 266.0,280.8 263.0,280.8 260.0,280.8 257.0,280.9 254.0,280.9 251.0,280.9 248.0,280.9 245.0,280.8 242.0,280.8 239.0,280.7 236.0,280.7 233.0,280.6 230.0,280.5 227.0,280.4 224.0,280.3 221.0,280.2 218.0,280.1 215.0,280.0 212.0,279.9 209.0,279.8 206.0,279.7 203.0,279.6 200.0,279.6 197.0,279.6 194.0,279.5 191.0,279.5 188.0,279.5 185.0,279.5 182.0,279.6 179.0,279.6 176.0,279.7 173.0,279.7 170.0,279.8 167.0,279.9 164.0,280.0 161.0,280.1 158.0,280.1 155.0,280.2 152.0,280.3 149.0,280.4 146.0,280.4 143.0,280.5 140.0,280.5 137.0,280.6 134.0,280.6 131.0,280.6 128.0,280.6 125.0,280.6 122.0,280.5 119.0,280.5 116.0,280.4 113.0,280.3 110.0,280.2 107.0,280.1 104.0,280.1 101.0,280.0 98.0,279.9 95.0,279.8 92.0,279.7 89.0,279.6 86.0,279.5 83.0,279.5" fill="#5fe85f" fill-opacity="0.45" stroke="none"/>
<polyline points="83.0,274.8 86.0,274.8 89.0,274.8 92.0,274.8 95.0,274.8 98.0,274.9 101.0,274.9 104.0,275.0 107.0,275.0 110.0,275.1 113.0,275.2 116.0,275.3 119.0,275.4 122.0,275.5 125.0,275.6 128.0,275.7 131.0,275.7 134.0,275.8 137.0,275.9 140.0,275.9 143.0,276.0 146.0,276.0 149.0,276.0 152.0,276.0 155.0,276.0 158.0,275.9 161.0,275.9 164.0,275.8 167.0,275.7 170.0,275.6 173.0,275.5 176.0,275.4 179.0,275.3 182.0,275.2 185.0,275.1 188.0,275.0 191.0,274.9 194.0,274.9 197.0,274.8 200.0,274.7 203.0,274.7 206.0,274.7 209.0,274.6 212.0,274.6 215.0,274.6 218.0,274.7 221.0,274.7 224.0,274.8 227.0,274.8 230.0,274.9 233.0,275.0 236.0,275.1 239.0,275.2 242.0,275.2 245.0,275.3 248.0,275.4 251.0,275.5 254.0,275.5 257.0,275.6 260.0,275.6 263.0,275.7 266.0,275.7 269.0,275.7 272.0,275.6 275.0,275.6 278.0,275.6 281.0,275.5 284.0,275.4 287.0,275.4 290.0,275.3 293.0,275.2 296.0,275.1 299.0,275.0 302.0,274.9 305.0,274.8 308.0,274.7 311.0,274.6 314.0,274.5 317.0,274.4 320.0,274.4 323.0,274.3 326.0,274.3 329.0,274.3 332.0,274.3 335.0,274.3 338.0,274.4 341.0,274.4 344.0,274.5 347.0,274.5 350.0,274.6 353.0,274.7 356.0,274.8 359.0,274.8 362.0,274.9 365.0,275.0 368.0,275.1 371.0,275.2 374.0,275.2 377.0,275.3 380.0,275.3 383.0,275.3 386.0,275.3 389.0,275.3 392.0,275.3 395.0,275.3 398.0,275.2 401.0,275.2 404.0,275.1 407.0,275.0 410.0,274.9 413.0,274.9 416.0,274.8 419.0,274.7 422.0,274.6 425.0,274.5 428.0,274.4 431.0,274.3 434.0,274.2 437.0,274.2 440.0,274.1 443.0,274.1 446.0,274.1 449.0,274.1 452.0,274.1 455.0,274.1 458.0,274.2 461.0,274.2 464.0,274.3 467.0,274.4 470.0,274.5 473.0,274.6 476.0,274.7 479.0,274.7 482.0,274.8 485.0,274.9 488.0,275.0 491.0,275.1 494.0,275.2 497.0,275.2 500.0,275.3 503.0,275.3 506.0,275.3 509.0,275.3 512.0,275.3 515.0,275.3 518.0,275.2 521.0,275.2 524.0,275.1 527.0,275.0 530.0,274.9 533.0,274.8 536.0,274.7 539.0,274.6 542.0,274.6 545.0,274.5 548.0,274.4 551.0,274.3 554.0,274.2 557.0,274.2 560.0,274.1 563.0,274.1 566.0,274.1 569.0,274.1 572.0,274.1 575.0,274.2 578.0,274.2 581.0,274.3 584.0,274.3 587.0,274.4 590.0,274.5 593.0,274.6 596.0,274.7 599.0,274.8" stroke="#2fe02f" stroke-width="1.7"/>
<polyline points="83.0,279.5 86.0,279.5 89.0,279.6 92.0,279.7 95.0,279.8 98.0,279.9 101.0,280.0 104.0,280.1 107.0,280.1 110.0,280.2 113.0,280.3 116.0,280.4 119.0,280.5 122.0,280.5 125.0,280.6 128.0,280.6 131.0,280.6 134.0,280.6 137.0,280.6 140.0,280.5 143.0,280.5 146.0,280.4 149.0,280.4 152.0,280.3 155.0,280.2 158.0,280.1 161.0,280.1 164.0,280.0 167.0,279.9 170.0,279.8 173.0,279.7 176.0,279.7 179.0,279.6 182.0,279.6 185.0,279.5 188.0,279.5 191.0,279.5 194.0,279.5 197.0,279.6 200.0,279.6 203.0,279.6 206.0,279.7 209.0,279.8 212.0,279.9 215.0,280.0 218.0,280.1 221.0,280.2 224.0,280.3 227.0,280.4 230.0,280.5 233.0,280.6 236.0,280.7 239.0,280.7 242.0,280.8 245.0,280.8 248.0,280.9 251.0,280.9 254.0,280.9 257.0,280.9 260.0,280.8 263.0,280.8 266.0,280.8 269.0,280.7 272.0,280.6 275.0,280.5 278.0,280.5 281.0,280.4 284.0,280.3 287.0,280.2 290.0,280.1 293.0,280.1 296.0,280.0 299.0,279.9 302.0,279.9 305.0,279.9 308.0,279.9 311.0,279.9 314.0,279.9 317.0,279.9 320.0,279.9 323.0,280.0 326.0,280.1 329.0,280.1 332.0,280.2 335.0,280.3 338.0,280.4 341.0,280.5 344.0,280.6 347.0,280.7 350.0,280.8 353.0,280.9 356.0,281.0 359.0,281.1 362.0,281.1 365.0,281.2 368.0,281.2 371.0,281.2 374.0,281.2 377.0,281.2 380.0,281.2 383.0,281.1 386.0,281.1 389.0,281.0 392.0,280.9 395.0,280.9 398.0,280.8 401.0,280.7 404.0,280.6 407.0,280.5 410.0,280.4 413.0,280.3 416.0,280.3 419.0,280.2 422.0,280.2 425.0,280.1 428.0,280.1 431.0,280.1 434.0,280.1 437.0,280.1 440.0,280.2 443.0,280.2 446.0,280.3 449.0,280.4 452.0,280.4 455.0,280.5 458.0,280.6 461.0,280.7 464.0,280.8 467.0,280.9 470.0,281.0 473.0,281.1 476.0,281.1 479.0,281.2 482.0,281.2 485.0,281.3 488.0,281.3 491.0,281.3 494.0,281.3 497.0,281.3 500.0,281.2 503.0,281.2 506.0,281.1 509.0,281.0 512.0,280.9 515.0,280.9 518.0,280.8 521.0,280.7 524.0,280.6 527.0,280.5 530.0,280.4 533.0,280.3 536.0,280.3 539.0,280.2 542.0,280.2 545.0,280.1 548.0,280.1 551.0,280.1 554.0,280.1 557.0,280.1 560.0,280.2 563.0,280.2 566.0,280.3 569.0,280.4 572.0,280.5 575.0,280.5 578.0,280.6 581.0,280.7 584.0,280.8 587.0,280.9 590.0,281.0 593.0,281.1 596.0,281.2 599.0,281.2" stroke="#2fe02f" stroke-width="1.7"/>
<line x1="83" y1="277.9" x2="599" y2="277.9" stroke="#000" stroke-width="1.1" stroke-dasharray="2 1.2"/>
</g>
<rect x="83.0" y="6.3" width="516.0" height="293.59999999999997" fill="none" stroke="#000" stroke-width="1.3"/>
<g font-size="18">
<text x="103.9" y="323.2" text-anchor="middle">3450</text><text x="209.3" y="323.2" text-anchor="middle">3440</text><text x="314.7" y="323.2" text-anchor="middle">3430</text><text x="420.1" y="323.2" text-anchor="middle">3420</text><text x="525.5" y="323.2" text-anchor="middle">3410</text>
<text x="78" y="17.1" text-anchor="end">500</text><text x="78" y="85.9" text-anchor="end">0</text><text x="78" y="159.5" text-anchor="end">-500</text><text x="78" y="232.7" text-anchor="end">-1000</text><text x="78" y="300.3" text-anchor="end">-1500</text>
<text x="341" y="342.2" text-anchor="middle">Rest Frequency [cm<tspan font-size="11" dy="-7">-1</tspan><tspan dy="7">]</tspan></text>
<text transform="translate(17.6 153) rotate(-90)" text-anchor="middle">Flux density [10<tspan font-size="11" dy="-7">-20</tspan><tspan dy="7"> W/m</tspan><tspan font-size="11" dy="-7">2</tspan><tspan dy="7">/cm</tspan><tspan font-size="11" dy="-7">-1</tspan><tspan dy="7">]</tspan></text>
<text x="157.3" y="106.1">H<tspan font-size="10.5" dy="5" dx="-0.3">2</tspan><tspan dy="-5">O (ortho)</tspan></text>
<text x="157.3" y="162.1">H<tspan font-size="10.5" dy="5" dx="-0.3">2</tspan><tspan dy="-5">O (para)</tspan></text>
<text x="157.5" y="222.6">OH</text>
<text x="158" y="260">residual*2</text>
</g>
</svg>
</body></html>
